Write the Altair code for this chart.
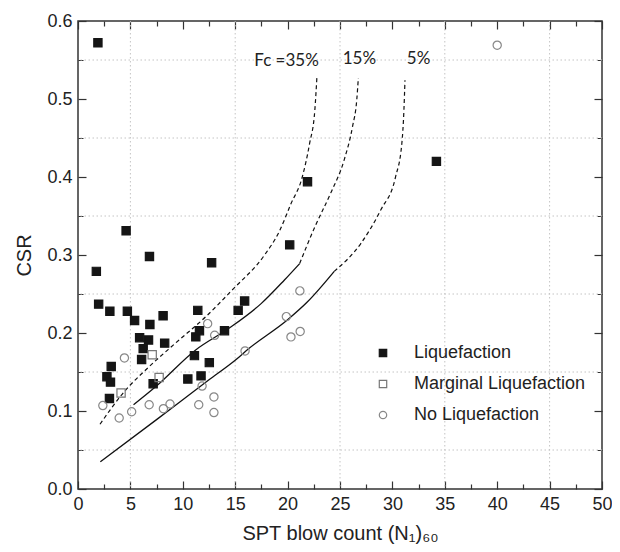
import altair as alt
import pandas as pd

# ---------------- data ----------------
categories = ["Liquefaction", "Marginal Liquefaction", "No Liquefaction"]

liq_x = [1.90, 4.59, 6.82, 1.75, 12.75, 20.2, 21.9, 34.2, 1.97, 3.04, 4.71, 5.40,
         6.86, 8.12, 11.43, 15.28, 15.9, 5.88, 6.73, 6.22, 6.07, 8.27, 11.24, 11.59,
         13.98, 11.11, 12.53, 3.17, 2.76, 3.10, 3.0, 7.17, 10.48, 11.74]
liq_y = [0.572, 0.331, 0.298, 0.279, 0.290, 0.313, 0.394, 0.420, 0.237, 0.228, 0.228, 0.216,
         0.211, 0.222, 0.229, 0.229, 0.241, 0.194, 0.191, 0.180, 0.166, 0.187, 0.195, 0.203,
         0.203, 0.171, 0.162, 0.157, 0.144, 0.137, 0.116, 0.135, 0.141, 0.145]

marg_x = [7.08, 7.74, 4.11]
marg_y = [0.172, 0.143, 0.123]

noliq_x = [4.43, 12.37, 13.04, 15.94, 19.88, 21.17, 20.32, 21.2, 11.84, 12.97, 12.97,
           11.52, 2.37, 3.93, 5.12, 6.79, 8.15, 8.78, 40.0]
noliq_y = [0.168, 0.212, 0.197, 0.177, 0.221, 0.254, 0.195, 0.202, 0.132, 0.118, 0.098,
           0.108, 0.107, 0.091, 0.099, 0.108, 0.103, 0.109, 0.569]

# boundary curves (Fc = 35 %, 15 %, 5 %)
fc35_dash_x = [2.1, 4.3, 6.8, 9.3, 12.2, 14.7, 17.8, 19.2, 20.3, 21.4, 22.1, 22.6, 22.8]
fc35_dash_y = [0.083, 0.123, 0.157, 0.187, 0.221, 0.255, 0.300, 0.330, 0.365, 0.400, 0.443, 0.486, 0.529]

fc15_solid_x = [5.3, 7.4, 11.2, 14.4, 17.5, 19.7, 21.15]
fc15_solid_y = [0.108, 0.131, 0.178, 0.206, 0.238, 0.268, 0.289]
fc15_dash_x = [21.15, 22.6, 24.1, 25.4, 26.2, 26.6, 26.75]
fc15_dash_y = [0.289, 0.336, 0.379, 0.422, 0.465, 0.499, 0.527]

fc5_solid_x = [2.13, 7.4, 12.5, 15.0, 16.3, 20.0, 21.9, 24.45]
fc5_solid_y = [0.035, 0.088, 0.140, 0.165, 0.180, 0.217, 0.240, 0.279]
fc5_dash_x = [24.45, 27.0, 28.9, 30.3, 30.9, 31.1, 31.2]
fc5_dash_y = [0.279, 0.315, 0.358, 0.400, 0.443, 0.486, 0.524]

curve_labels = ["Fc =35%", "15%", "5%"]
curve_label_x = [19.9, 26.85, 32.5]
curve_label_y = [0.549, 0.551, 0.551]

x_ticks = [0, 2.5, 5, 7.5, 10, 12.5, 15, 17.5, 20, 22.5, 25, 27.5, 30, 32.5, 35,
           37.5, 40, 42.5, 45, 47.5, 50]
y_ticks = [0, 0.05, 0.1, 0.15, 0.2, 0.25, 0.3, 0.35, 0.4, 0.45, 0.5, 0.55, 0.6]
x_grid = [5, 15, 25, 35, 45]
y_grid = [0.05, 0.15, 0.25, 0.35, 0.45, 0.55]

# ---------------- tables ----------------
pts = pd.DataFrame({
    "x": liq_x + marg_x + noliq_x,
    "y": liq_y + marg_y + noliq_y,
    "cat": [categories[0]] * len(liq_x) + [categories[1]] * len(marg_x) + [categories[2]] * len(noliq_x),
})


def seg(xs, ys, name):
    return pd.DataFrame({"x": xs, "y": ys, "curve": name, "ord": list(range(len(xs)))})


solid = pd.concat([seg(fc15_solid_x, fc15_solid_y, "15"), seg(fc5_solid_x, fc5_solid_y, "5")])
dashed = pd.concat([seg(fc35_dash_x, fc35_dash_y, "35"), seg(fc15_dash_x, fc15_dash_y, "15"),
                    seg(fc5_dash_x, fc5_dash_y, "5")])
labels = pd.DataFrame({"x": curve_label_x, "y": curve_label_y, "t": curve_labels})

FONT = "Liberation Sans"
TXT = "#222222"
xs = alt.Scale(domain=[0, 50], nice=False, zero=False)
ys = alt.Scale(domain=[0, 0.6], nice=False, zero=False)

x_minor = {"condition": {"test": "datum.value % 5 != 0", "value": [0, 3, 5, 0]}, "value": [8, 0]}
y_minor = {"condition": {"test": "round(datum.value * 100) % 10 != 0", "value": [0, 3, 5, 0]},
           "value": [8, 0]}

x_axis_main = alt.Axis(
    orient="bottom", values=x_ticks, offset=-8, domain=False, grid=False,
    tickSize=8, tickColor="#333333", tickWidth=1.2, tickDash=x_minor,
    labelExpr="datum.value % 5 == 0 ? datum.label : ''", format="d",
    labelFont=FONT, labelFontSize=18, labelColor=TXT, labelPadding=6, labelFlush=False,
    title="SPT blow count (N₁)₆₀", titleFont=FONT, titleFontSize=20,
    titleFontWeight="normal", titleColor=TXT, titlePadding=10,
)
y_axis_main = alt.Axis(
    orient="left", values=y_ticks, offset=-8, domain=False, grid=False,
    tickSize=8, tickColor="#333333", tickWidth=1.2, tickDash=y_minor,
    labelExpr="round(datum.value * 100) % 10 == 0 ? datum.label : ''", format=".1f",
    labelFont=FONT, labelFontSize=18, labelColor=TXT, labelPadding=6, labelFlush=False,
    title="CSR", titleFont=FONT, titleFontSize=20, titleFontWeight="normal",
    titleColor=TXT, titlePadding=12,
)
x_axis_top = alt.Axis(
    orient="top", values=x_ticks, offset=-8, domain=False, grid=False, labels=False,
    tickSize=8, tickColor="#333333", tickWidth=1.2, tickDash=x_minor, title=None,
)
y_axis_right = alt.Axis(
    orient="right", values=y_ticks, offset=-8, domain=False, grid=False, labels=False,
    tickSize=8, tickColor="#333333", tickWidth=1.2, tickDash=y_minor, title=None,
)

grid_x = alt.Chart(pd.DataFrame({"g": x_grid})).mark_rule(
    color="#c4c4c4", strokeDash=[1.5, 2.5], strokeWidth=1
).encode(x=alt.X("g:Q", scale=xs, axis=None))
grid_y = alt.Chart(pd.DataFrame({"g": y_grid})).mark_rule(
    color="#c4c4c4", strokeDash=[1.5, 2.5], strokeWidth=1
).encode(y=alt.Y("g:Q", scale=ys, axis=None))

solid_lines = alt.Chart(solid).mark_line(color="#111111", strokeWidth=1.3, interpolate="monotone").encode(
    x=alt.X("x:Q", scale=xs, axis=None), y=alt.Y("y:Q", scale=ys, axis=None),
    detail="curve:N", order="ord:Q",
)
dashed_lines = alt.Chart(dashed).mark_line(
    color="#111111", strokeWidth=1.2, strokeDash=[4, 3], interpolate="monotone"
).encode(
    x=alt.X("x:Q", scale=xs, axis=None), y=alt.Y("y:Q", scale=ys, axis=None),
    detail="curve:N", order="ord:Q",
)

text = alt.Chart(labels).mark_text(font="Lato", fontSize=17, color=TXT).encode(
    x=alt.X("x:Q", scale=xs, axis=x_axis_top), y=alt.Y("y:Q", scale=ys, axis=y_axis_right),
    text="t:N",
)

leg = alt.Legend(
    title=None, orient="none", legendX=296, legendY=323, padding=0,
    labelFont=FONT, labelFontSize=18, labelColor=TXT, labelOffset=22, labelLimit=0,
    symbolSize=55, symbolStrokeWidth=1.2, rowPadding=13,
)
points = alt.Chart(pts).mark_point(filled=True, size=68, strokeWidth=1.2, opacity=1).encode(
    x=alt.X("x:Q", scale=xs, axis=x_axis_main),
    y=alt.Y("y:Q", scale=ys, axis=y_axis_main),
    shape=alt.Shape("cat:N", scale=alt.Scale(domain=categories, range=["square", "square", "circle"]),
                    legend=leg),
    fill=alt.Fill("cat:N", scale=alt.Scale(domain=categories, range=["#151515", "transparent", "transparent"]),
                  legend=leg),
    stroke=alt.Stroke("cat:N", scale=alt.Scale(domain=categories, range=["#151515", "#777777", "#888888"]),
                      legend=leg),
)

chart = alt.layer(grid_x, grid_y, solid_lines, dashed_lines, points, text).resolve_axis(
    x="independent", y="independent"
).properties(
    width=524, height=468,
    autosize=alt.AutoSizeParams(type="none"),
    padding={"left": 70, "top": 13, "right": 10, "bottom": 55},
).configure_view(stroke="#333333", strokeWidth=1.5)

chart.save("out.html", embed_options={"renderer": "svg", "actions": False})
